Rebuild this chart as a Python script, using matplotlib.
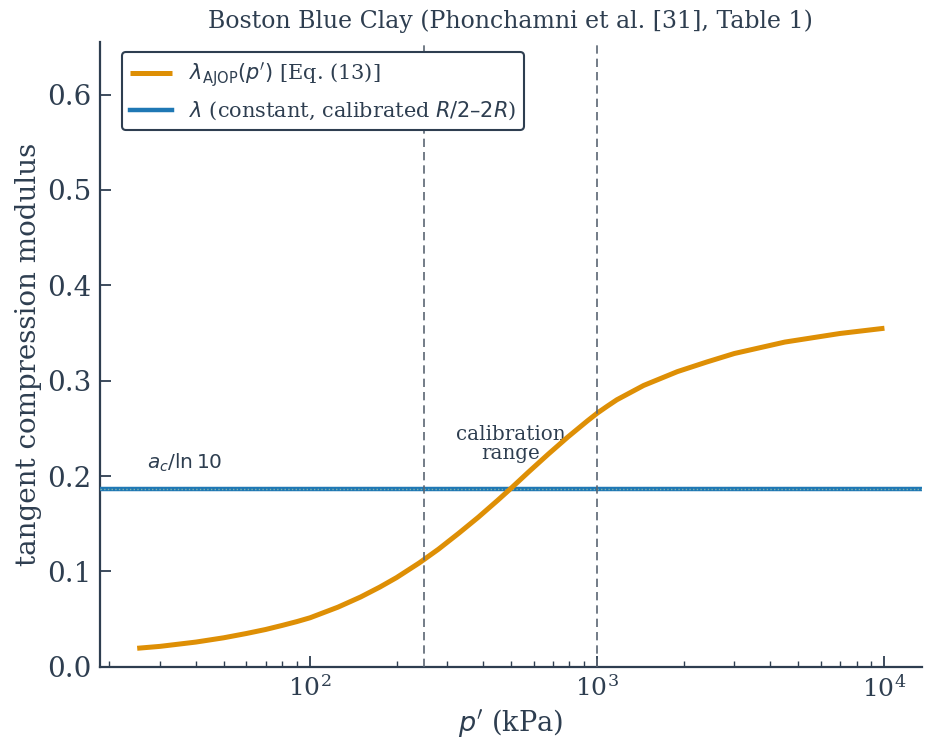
import numpy as np
import matplotlib
matplotlib.use('Agg')
import matplotlib.pyplot as plt

# данные
p_kpa = [25, 30, 40, 50, 60, 70, 80, 90, 100, 125, 150, 175, 200, 240, 280,
         330, 385, 450, 500, 575, 675, 790, 925, 1000, 1080, 1170, 1450, 1900,
         2400, 3000, 4500, 7000, 10000]
lam_ajop = [0.0195, 0.0215, 0.026, 0.0305, 0.035, 0.0392, 0.0435, 0.0475, 0.0515,
            0.0626, 0.0733, 0.0837, 0.0936, 0.109, 0.1234, 0.1403, 0.1568, 0.1746,
            0.187, 0.204, 0.223, 0.241, 0.258, 0.266, 0.273, 0.280, 0.295, 0.3095,
            0.3195, 0.3285, 0.3405, 0.3495, 0.355]
lam_const = 0.187
calib_range = [250, 1000]  # R/2 и 2R, R = 500 кПа

c_text = '#2e3e50'
c_orange = '#DE8F05'
c_blue = '#1f78b4'

plt.rcParams['font.family'] = 'DejaVu Serif'
plt.rcParams['text.color'] = c_text
plt.rcParams['axes.labelcolor'] = c_text
plt.rcParams['xtick.color'] = c_text
plt.rcParams['ytick.color'] = c_text
plt.rcParams['axes.edgecolor'] = c_text

fig = plt.figure(figsize=(9.33, 7.51), dpi=100)
ax = fig.add_axes([0.107, 0.112, 0.881, 0.832])

ax.plot(p_kpa, lam_ajop, color=c_orange, lw=3.6, zorder=4,
        solid_capstyle='butt', solid_joinstyle='round',
        label=r"$\lambda_{\rm AJOP}(p')$ [Eq. (13)]")
ax.axhline(lam_const, color=c_blue, lw=3.2, zorder=3,
           label=r"$\lambda$ (constant, calibrated $R/2$–$2R$)")
ax.axhline(lam_const, color='#7fb0a8', lw=1.0, ls=':', zorder=3)

for xv in calib_range:
    ax.axvline(xv, color='#5b6673', lw=1.2, ls=(0, (5, 3)), zorder=5)

ax.text(np.sqrt(calib_range[0] * calib_range[1]), 0.214, 'calibration\nrange',
        ha='center', va='bottom', fontsize=14.3, linespacing=1.0)
ax.text(27, 0.202, r'$a_c/\ln 10$', fontsize=14.5, ha='left', va='bottom')

ax.set_xscale('log')
ax.set_ylim(0, 0.655)
ax.set_yticks([0.0, 0.1, 0.2, 0.3, 0.4, 0.5, 0.6])

ax.spines['top'].set_visible(False)
ax.spines['right'].set_visible(False)
ax.spines['left'].set_linewidth(1.6)
ax.spines['bottom'].set_linewidth(1.6)
ax.tick_params(which='major', direction='in', length=8, width=1.3, pad=6)
ax.tick_params(axis='x', which='major', labelsize=18)
ax.tick_params(axis='y', which='major', labelsize=20)
ax.tick_params(which='minor', direction='in', length=4, width=1.0)

ax.set_xlabel(r"$p'$ (kPa)", fontsize=19.5)
ax.set_ylabel('tangent compression modulus', fontsize=20)
ax.set_title('Boston Blue Clay (Phonchamni et al. [31], Table 1)', fontsize=17, pad=10)

leg = ax.legend(loc='upper left', bbox_to_anchor=(0.027, 0.984), borderaxespad=0,
                fontsize=15, frameon=True, fancybox=True, handlelength=2.0)
leg.get_frame().set_edgecolor(c_text)
leg.get_frame().set_linewidth(1.5)
leg.get_frame().set_alpha(1)

plt.savefig('out.png', dpi=100)
